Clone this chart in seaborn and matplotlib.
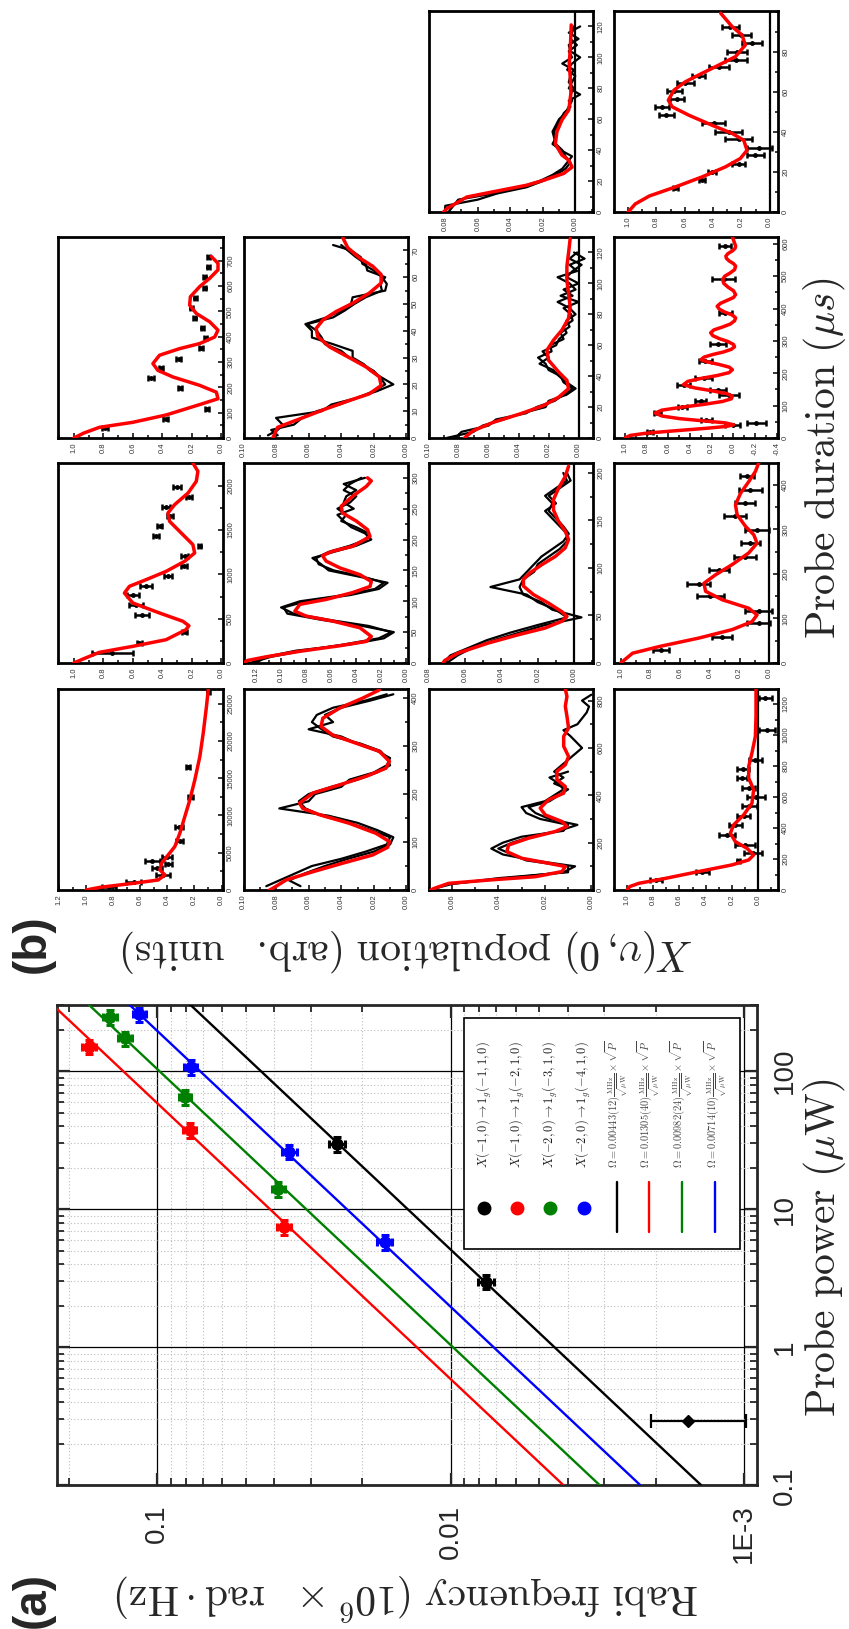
import numpy as np
import matplotlib
matplotlib.use("Agg")
import matplotlib.pyplot as plt
import seaborn as sns
from matplotlib.ticker import LogLocator, NullFormatter, MultipleLocator
from matplotlib.patches import Rectangle

# ---------------------------------------------------------------- panel (a) data
power_black = [2.99, 29.7]
rabi_black = [0.0076, 0.0244]
rabi_err_black = [0.0005, 0.0015]
power_err_black = [0.35, 3.5]
power_low = [0.291]
rabi_low = [0.00155]
rabi_low_err = [[0.00056], [0.00053]]

power_red = [151, 37.5, 7.4]
rabi_red = [0.171, 0.0775, 0.037]
rabi_err_red = [0.009, 0.004, 0.002]
power_err_red = [18, 4.5, 0.9]

power_green = [246, 173, 65, 14.0]
rabi_green = [0.145, 0.129, 0.0805, 0.0387]
rabi_err_green = [0.008, 0.007, 0.004, 0.002]
power_err_green = [30, 21, 8, 1.7]

power_blue = [258, 107, 26.1, 5.77]
rabi_blue = [0.115, 0.077, 0.0355, 0.0168]
rabi_err_blue = [0.006, 0.004, 0.002, 0.001]
power_err_blue = [31, 13, 3.1, 0.7]

fit_coef = [0.00443, 0.01305, 0.00982, 0.00714]
series_colors = ["#000000", "#ff0000", "#008000", "#0000ff"]
marker_labels = [r"$X(-1,0)\rightarrow 1_g(-1,1,0)$",
                 r"$X(-1,0)\rightarrow 1_g(-2,1,0)$",
                 r"$X(-2,0)\rightarrow 1_g(-3,1,0)$",
                 r"$X(-2,0)\rightarrow 1_g(-4,1,0)$"]
fit_labels = [r"$\Omega=0.00443(12)\frac{\mathrm{MHz}}{\sqrt{\mu\mathrm{W}}}\times\sqrt{P}$",
              r"$\Omega=0.01305(40)\frac{\mathrm{MHz}}{\sqrt{\mu\mathrm{W}}}\times\sqrt{P}$",
              r"$\Omega=0.00982(24)\frac{\mathrm{MHz}}{\sqrt{\mu\mathrm{W}}}\times\sqrt{P}$",
              r"$\Omega=0.00714(10)\frac{\mathrm{MHz}}{\sqrt{\mu\mathrm{W}}}\times\sqrt{P}$"]

# ---------------------------------------------------------------- panel (b) data
# r1c3
r1c3_fit_t = [0, 2.2, 9.7, 13.6, 17.3, 20.5, 24.9, 29, 33.5, 36.8, 44, 52, 59.5, 66, 76.8, 85.4, 96.2, 107, 121]
r1c3_fit_p = [0.081, 0.079, 0.0667, 0.048, 0.030, 0.0195, 0.0072, 0.002, 0.004, 0.0082, 0.0123, 0.0113,
              0.0082, 0.004, 0.0027, 0.003, 0.0037, 0.003, 0.0025]
r1c3_t = [0, 4, 8, 12, 16, 20, 24, 28, 32, 36, 40, 44, 48, 52, 56, 60, 64, 68, 72, 76, 80, 84, 88, 92, 96,
          100, 104, 108, 112, 116, 120]
r1c3_a = [.080, .080, .060, .048, .030, .020, .012, .006, .003, .006, .008, .012, .013, .014, .012, .010,
          .006, .004, .002, .003, .001, .004, .003, .001, .008, .002, .004, -.001, .003, .002, .001]
r1c3_b = [.078, .075, .072, .050, .034, .022, .014, .008, .005, .002, .009, .014, .012, .013, .011, .009,
          .007, .003, .004, -.003, .004, .002, .000, .005, .002, -.003, .003, .004, -.002, .004, -.003]

# r1c4
r1c4_fit_t = [0, 4, 8, 12.5, 17.5, 22.5, 26.7, 30.8, 35.8, 39.2, 43.3, 48.3, 52.5, 55.8, 60.8, 65, 69.2,
              73.3, 77.5, 83.3, 88.3, 92.5, 99.2]
r1c4_fit_p = [1.0, 0.95, 0.85, 0.666, 0.478, 0.313, 0.207, 0.16, 0.183, 0.265, 0.407, 0.571, 0.689, 0.716,
              0.676, 0.595, 0.478, 0.36, 0.242, 0.172, 0.195, 0.265, 0.346]
r1c4_pt_t = [12, 15.8, 20, 24.2, 28.3, 32, 36.2, 40, 44.2, 48.3, 52.2, 56.2, 60.3, 64.2, 68, 72.2, 75.8,
             80, 84.2, 88.2, 92.2]
r1c4_pt_p = [0.666, 0.478, 0.407, 0.219, 0.101, 0.073, 0.219, 0.289, 0.395, 0.732, 0.76, 0.654, 0.673,
             0.595, 0.501, 0.36, 0.238, 0.231, 0.125, 0.2, 0.278]
r1c4_pt_e = [0.02, 0.02, 0.03, 0.047, 0.059, 0.088, 0.094, 0.094, 0.082, 0.053, 0.047, 0.047, 0.053, 0.059,
             0.047, 0.07, 0.076, 0.07, 0.07, 0.065, 0.059]

# r2c1
r2c1_fit_t = [0, 20, 42, 62, 91, 132, 155, 181, 208, 241, 267, 294, 327, 353, 373, 399, 426, 459, 492,
              525, 558, 598, 631, 664, 690, 717]
r2c1_fit_p = [1.0, 0.93, 0.827, 0.6, 0.374, 0.147, 0.023, 0.034, 0.147, 0.328, 0.43, 0.464, 0.419, 0.283,
              0.147, 0.045, 0.023, 0.079, 0.17, 0.215, 0.21, 0.147, 0.079, 0.023, 0.023, 0.068]
r2c1_pt_t = [38, 75, 115, 197, 237, 276, 313, 357, 396, 435, 475, 515, 554, 594, 635, 675, 714]
r2c1_pt_p = [0.79, 0.378, 0.097, 0.279, 0.476, 0.408, 0.29, 0.14, 0.106, 0.129, 0.179, 0.204, 0.177,
             0.113, 0.113, 0.09, 0.086]
r2c1_pt_e = [0.02, 0.015, 0.015, 0.015, 0.02, 0.015, 0.015, 0.015, 0.01, 0.01, 0.01, 0.01, 0.01, 0.01,
             0.01, 0.01, 0.01]

# r2c2
r2c2_fit_t = [0, 4, 7.1, 10.9, 14, 16.5, 19.6, 22.8, 26.5, 30.3, 34, 37.8, 40.9, 44, 47.2, 50.3, 54.1,
              57.8, 61, 64.1, 67.2, 71, 74.7]
r2c2_fit_p = [0.082, 0.079, 0.0656, 0.0493, 0.035, 0.0227, 0.0155, 0.0166, 0.0247, 0.036, 0.0472, 0.0544,
              0.0554, 0.0513, 0.0431, 0.0329, 0.0227, 0.0155, 0.0155, 0.0207, 0.0288, 0.036, 0.039]
r2c2_t = [1, 3, 5, 7.5, 10, 12.5, 15, 17.5, 20, 22.5, 25, 27.5, 30, 32.5, 35, 37.5, 40, 42.5, 45, 47.5,
          50, 52.5, 55, 57.5, 60, 62.5, 65, 67.5, 70, 72]
r2c2_a = [.085, .079, .076, .080, .052, .046, .030, .018, .008, .015, .022, .026, .033, .033, .045, .058,
          .058, .062, .049, .040, .034, .033, .013, .012, .015, .020, .027, .028, .034, .045]
r2c2_b = [.079, .083, .069, .064, .055, .041, .030, .020, .013, .016, .020, .027, .035, .040, .050, .052,
          .055, .061, .045, .038, .032, .025, .015, .016, .013, .024, .025, .031, .036, .040]

# r2c3
r2c3_fit_t = [0, 1.5, 4.8, 10.2, 15.6, 21, 26.4, 31.9, 37.3, 42.7, 50.3, 56.8, 63.3, 69.8, 77.4, 84.9,
              93.6, 102, 111, 119.6, 129]
r2c3_fit_p = [0.076, 0.0744, 0.07, 0.0567, 0.0389, 0.0233, 0.0133, 0.0067, 0.0078, 0.0133, 0.02, 0.0211,
              0.0167, 0.0111, 0.0067, 0.0056, 0.0067, 0.0078, 0.0078, 0.0067, 0.0056]
r2c3_t = [0, 4, 8, 12, 16, 20, 24, 28, 32, 36, 40, 44, 48, 52, 56, 60, 64, 68, 72, 76, 80, 84, 88, 92, 96,
          100, 104, 108, 112, 116, 120]
r2c3_a = [.088, .070, .064, .050, .038, .022, .020, .008, .002, .008, .013, .017, .026, .020, .024, .015,
          .013, .008, .010, .004, .005, .010, .000, .012, .002, .006, .014, .001, .006, -.004, .003]
r2c3_b = [.082, .078, .060, .055, .035, .028, .016, .010, .004, .010, .012, .020, .022, .027, .018, .019,
          .010, .012, .006, .008, .002, .006, .014, .004, .010, .000, .008, .004, -.002, .006, .001]

# r2c4
r2c4_fit_t = [0, 8, 15, 22, 30, 36, 41, 47, 53, 60, 68, 77, 86, 95, 104, 113, 121, 129, 137, 146, 155,
              165, 175, 184, 193, 202, 211, 219, 227, 235, 242, 250, 258, 266, 274, 282, 289, 298, 307,
              316, 325, 334, 343, 352, 362, 371, 380, 389, 398, 407, 416, 425, 434, 443, 455, 466, 478,
              490, 500, 510, 520, 531, 539, 547, 555, 562, 570, 578, 586, 593, 607, 621]
r2c4_fit_p = [1.0, 0.95, 0.80, 0.55, 0.25, 0.06, 0.0, 0.08, 0.28, 0.50, 0.66, 0.72, 0.66, 0.48, 0.27,
              0.10, 0.02, 0.01, 0.06, 0.20, 0.36, 0.46, 0.42, 0.30, 0.15, 0.04, 0.01, 0.04, 0.13, 0.24,
              0.30, 0.27, 0.19, 0.09, 0.02, -0.01, 0.0, 0.05, 0.13, 0.19, 0.21, 0.18, 0.10, 0.03, -0.01,
              -0.02, 0.01, 0.08, 0.13, 0.15, 0.12, 0.06, 0.00, -0.02, 0.0, 0.05, 0.09, 0.10, 0.08, 0.03,
              -0.01, -0.02, 0.0, 0.04, 0.065, 0.07, 0.05, 0.01, -0.015, -0.02, -0.005, 0.01]
r2c4_pt_t = [17.5, 41, 45, 55, 77, 96, 113, 134, 149, 165, 186, 237, 289, 387, 490, 593]
r2c4_pt_p = [0.77, 0.006, -0.21, 0.25, 0.70, 0.47, 0.30, 0.043, 0.142, 0.456, 0.273, 0.26, 0.142, 0.074,
             0.09, 0.08]
r2c4_pt_e = [0.025, 0.07, 0.085, 0.05, 0.03, 0.045, 0.05, 0.09, 0.07, 0.06, 0.077, 0.06, 0.07, 0.06,
             0.107, 0.054]

# r3c1
r3c1_fit_t = [0, 50, 120, 188, 263, 376, 420, 470, 564, 677, 789, 865, 940, 1034, 1147, 1241, 1335, 1466,
              1598, 1692, 1786, 1917, 2049, 2162, 2256]
r3c1_fit_p = [1.0, 0.93, 0.827, 0.6, 0.374, 0.24, 0.22, 0.26, 0.419, 0.6, 0.657, 0.623, 0.51, 0.374,
              0.249, 0.181, 0.193, 0.272, 0.351, 0.362, 0.317, 0.226, 0.17, 0.159, 0.193]
r3c1_pt_t = [113, 226, 346, 545, 650, 763, 872, 985, 1098, 1203, 1316, 1429, 1541, 1654, 1759, 1868, 1985]
r3c1_pt_p = [0.74, 0.555, 0.249, 0.537, 0.578, 0.6, 0.51, 0.362, 0.256, 0.249, 0.147, 0.442, 0.419, 0.351,
             0.374, 0.22, 0.301]
r3c1_pt_e = [0.14, 0.02, 0.015, 0.045, 0.045, 0.04, 0.04, 0.03, 0.02, 0.025, 0.01, 0.02, 0.02, 0.02,
             0.025, 0.02, 0.025]

# r3c2
r3c2_fit_t = [0, 4, 10, 19, 28, 35, 43, 57, 68, 76, 84, 95, 103, 114, 124, 132, 143, 154, 165, 174, 181,
              189, 205, 216, 230, 243, 254, 270, 286, 295, 300]
r3c2_fit_p = [0.13, 0.127, 0.112, 0.085, 0.053, 0.032, 0.028, 0.037, 0.059, 0.08, 0.089, 0.085, 0.064,
              0.043, 0.029, 0.028, 0.037, 0.053, 0.064, 0.067, 0.059, 0.043, 0.029, 0.031, 0.04, 0.051,
              0.052, 0.043, 0.032, 0.028, 0.031]
r3c2_t = [0, 10, 20, 30, 40, 50, 60, 70, 80, 90, 100, 110, 120, 130, 140, 150, 160, 170, 180, 190, 200,
          210, 220, 230, 240, 250, 260, 270, 280, 290, 300]
r3c2_a = [.125, .108, .082, .050, .022, .012, .030, .062, .090, .100, .085, .050, .025, .018, .035, .058,
          .070, .072, .062, .045, .032, .030, .040, .052, .048, .055, .045, .040, .050, .045, .036]
r3c2_b = [.120, .112, .088, .045, .018, .010, .035, .068, .095, .098, .080, .045, .022, .015, .038, .062,
          .068, .075, .058, .040, .028, .033, .044, .050, .055, .042, .050, .048, .040, .050, .033]

# r3c3
r3c3_fit_t = [0, 2.8, 10.5, 21, 29.8, 36.8, 43.9, 49, 54, 63, 72, 81, 88, 95, 103.5, 112, 121, 130, 139,
              149, 161, 172, 184, 196, 207]
r3c3_fit_p = [0.072, 0.071, 0.0637, 0.0472, 0.0306, 0.016, 0.0068, 0.004, 0.0068, 0.0141, 0.0224, 0.0279,
              0.0279, 0.0242, 0.0178, 0.0105, 0.005, 0.0031, 0.005, 0.0086, 0.0114, 0.0114, 0.0086, 0.005,
              0.0031]
r3c3_t = [0, 8, 16, 24, 32, 40, 48, 56, 64, 72, 80, 88, 96, 104, 112, 120, 128, 136, 144, 152, 160, 168,
          176, 184, 192, 200]
r3c3_a = [.072, .068, .058, .048, .035, .020, .004, .010, .020, .026, .046, .030, .026, .022, .018, .012,
          .006, .003, .006, .010, .014, .012, .016, .010, .004, .006]
r3c3_b = [.070, .064, .056, .044, .030, .016, -.004, .012, .018, .028, .030, .028, .022, .020, .014, .008,
          .004, .004, .008, .012, .016, .010, .014, .008, .002, .004]

# r3c4
r3c4_fit_t = [0, 22, 37, 56, 75, 93, 108, 123, 142, 161, 179, 198, 221, 247, 269, 288, 307, 333, 355, 381,
              407, 430, 449]
r3c4_fit_p = [1.0, 0.92, 0.74, 0.474, 0.25, 0.116, 0.083, 0.139, 0.317, 0.429, 0.44, 0.362, 0.25, 0.139,
              0.083, 0.105, 0.161, 0.217, 0.228, 0.194, 0.139, 0.094, 0.072]
r3c4_pt_t = [30, 58, 90, 117, 150, 178, 209, 239, 269, 299, 329, 359, 389, 419]
r3c4_pt_p = [0.73, 0.317, 0.072, 0.072, 0.396, 0.474, 0.34, 0.165, 0.127, 0.083, 0.232, 0.161, 0.127, 0.15]
r3c4_pt_e = [0.056, 0.067, 0.078, 0.09, 0.09, 0.078, 0.067, 0.073, 0.067, 0.078, 0.073, 0.067, 0.078, 0.045]

# r4c1
r4c1_fit_t = [0, 358, 896, 1344, 2016, 2688, 3584, 4704, 5824, 7616, 9857, 12097, 14785, 17921, 21057,
              24641, 26882]
r4c1_fit_p = [1.0, 0.898, 0.652, 0.468, 0.418, 0.455, 0.443, 0.394, 0.345, 0.308, 0.271, 0.234, 0.197,
              0.16, 0.135, 0.111, 0.098]
r4c1_pt_t = [450, 1120, 2016, 2912, 3450, 3898, 4480, 6631, 8513, 12545, 16487, 26523]
r4c1_pt_p = [0.83, 0.647, 0.431, 0.48, 0.394, 0.512, 0.406, 0.308, 0.315, 0.229, 0.246, 0.098]
r4c1_pt_e = [0.05, 0.055, 0.05, 0.037, 0.025, 0.055, 0.037, 0.025, 0.03, 0.015, 0.015, 0.01]

# r4c2
r4c2_fit_t = [0, 3.5, 21, 38, 56, 73, 89, 101, 118, 139, 157, 170, 181, 202, 219, 237, 254, 268, 289,
              306, 323, 341, 358, 379, 400, 417]
r4c2_fit_p = [0.084, 0.082, 0.0738, 0.0575, 0.039, 0.0207, 0.0115, 0.0104, 0.0186, 0.035, 0.0534, 0.0636,
              0.0656, 0.0575, 0.0411, 0.0247, 0.0125, 0.0104, 0.0166, 0.0309, 0.0452, 0.0524, 0.0513,
              0.0411, 0.0268, 0.0166]
r4c2_t = [8, 20, 35, 50, 65, 80, 95, 110, 125, 140, 155, 170, 185, 200, 215, 230, 245, 260, 275, 290, 305,
          320, 335, 350, 365, 380, 395, 408]
r4c2_a = [.086, .078, .068, .058, .040, .025, .012, .010, .022, .035, .052, .062, .066, .060, .046, .030,
          .018, .010, .012, .016, .028, .045, .052, .058, .055, .045, .025, .012]
r4c2_b = [.065, .072, .062, .050, .036, .020, .010, .008, .018, .030, .048, .078, .060, .056, .040, .035,
          .020, .012, .010, .018, .030, .040, .060, .045, .050, .040, .022, .008]

# r4c3
r4c3_fit_t = [0, 7, 28, 42, 56, 78, 99, 113, 134, 162, 190, 219, 247, 268, 289, 317, 346, 381, 409, 437,
              466, 501, 529, 564, 607, 649, 684, 734, 776, 818, 849]
r4c3_fit_p = [0.069, 0.0675, 0.0614, 0.0442, 0.0241, 0.0126, 0.0112, 0.0184, 0.0299, 0.0363, 0.0356,
              0.027, 0.0155, 0.0105, 0.0126, 0.0198, 0.022, 0.0184, 0.0119, 0.0112, 0.0148, 0.0148, 0.0112,
              0.0098, 0.0119, 0.0119, 0.0098, 0.0105, 0.0112, 0.0105, 0.0112]
r4c3_ta = [0, 25, 50, 75, 100, 125, 150, 175, 200, 225, 250, 275, 300, 325, 350, 375, 400, 425, 450, 475, 500]
r4c3_a = [.069, .062, .036, .012, .007, .025, .038, .043, .038, .030, .012, .010, .022, .028, .030, .020,
          .016, .012, .014, .018, .010]
r4c3_tb = [0, 25, 50, 75, 100, 125, 150, 175, 200, 225, 250, 275, 300, 325, 350, 375, 400, 425, 450, 475,
           500, 550, 600, 650, 675, 700, 725, 750, 775, 800, 825]
r4c3_b = [.070, .060, .040, .010, .010, .028, .034, .040, .034, .026, .014, .006, .018, .024, .027, .018,
          .014, .010, .016, .012, .016, .010, .004, .009, .012, .006, .004, .002, .001, .004, .000]

# r4c4
r4c4_fit_t = [0, 22, 43, 75, 119, 162, 194, 226, 269, 312, 366, 420, 485, 560, 647, 722, 797, 884, 991,
              1121, 1239, 1297]
r4c4_fit_p = [1.0, 0.98, 0.911, 0.707, 0.453, 0.198, 0.071, 0.033, 0.084, 0.173, 0.211, 0.186, 0.109,
              0.046, 0.033, 0.071, 0.071, 0.046, 0.02, 0.015, 0.015, 0.015]
r4c4_pt_t = [65, 119, 188, 237, 291, 356, 420, 478, 539, 599, 657, 722, 780, 840, 1034, 1239]
r4c4_pt_p = [0.778, 0.427, 0.15, 0.04, 0.097, 0.237, 0.173, 0.109, 0.066, 0.015, 0.071, 0.122, 0.117,
             0.02, -0.069, -0.056]
r4c4_pt_e = [0.045, 0.05, 0.01, 0.07, 0.076, 0.064, 0.05, 0.05, 0.057, 0.07, 0.05, 0.04, 0.045, 0.05,
             0.064, 0.05]

# ---------------------------------------------------------------- figure
sns.set_style("ticks")
plt.rcParams["font.family"] = ["Liberation Sans", "DejaVu Sans"]
plt.rcParams["mathtext.fontset"] = "cm"

W, H = 849, 1629
fig = plt.figure(figsize=(W / 100, H / 100), dpi=100)


def px_axes(x0, y0, x1, y1):
    return fig.add_axes([x0 / W, 1 - y1 / H, (x1 - x0) / W, (y1 - y0) / H])


def align_rotated_labels(axis_obj):
    # tick labels turned by 90 degrees: centre them on the tick along the axis
    for lbl in axis_obj.yaxis.get_ticklabels():
        lbl.set_verticalalignment("center")
        lbl.set_horizontalalignment("left")
    for lbl in axis_obj.xaxis.get_ticklabels():
        lbl.set_verticalalignment("top")
        lbl.set_horizontalalignment("center")


# ---------------------------------------------------------------- panel (a)
ax = px_axes(57.3, 1005, 757.3, 1485.3)
ax.set_xscale("log")
ax.set_yscale("log")
ax.set_axisbelow(True)

power_grid = np.logspace(-1, np.log10(310), 200)
for coef, col in zip(fit_coef, series_colors):
    sns.lineplot(x=coef * np.sqrt(power_grid), y=power_grid, sort=False, estimator=None,
                 color=col, lw=1.7, ax=ax, zorder=3)

point_sets = [(rabi_black, power_black, rabi_err_black, power_err_black, series_colors[0]),
              (rabi_red, power_red, rabi_err_red, power_err_red, series_colors[1]),
              (rabi_green, power_green, rabi_err_green, power_err_green, series_colors[2]),
              (rabi_blue, power_blue, rabi_err_blue, power_err_blue, series_colors[3])]
for rx, py, rxe, pye, col in point_sets:
    ax.errorbar(rx, py, xerr=rxe, yerr=pye, fmt="none", ecolor=col, elinewidth=2.2,
                capsize=3, capthick=2.2, zorder=4)
    sns.scatterplot(x=rx, y=py, color=col, s=80, edgecolor=col, linewidth=0, ax=ax, zorder=4)
ax.errorbar(rabi_low, power_low, xerr=rabi_low_err, fmt="D", ms=6, color="black",
            elinewidth=1.6, capsize=5, capthick=1.6, zorder=4)

ax.set_xticks([1e-3, 1e-2, 1e-1], labels=["1E-3", "0.01", "0.1"])
ax.xaxis.set_minor_locator(LogLocator(base=10, subs=np.arange(2, 10)))
ax.xaxis.set_minor_formatter(NullFormatter())
ax.yaxis.tick_right()
ax.set_yticks([0.1, 1, 10, 100], labels=["0.1", "1", "10", "100"])
ax.yaxis.set_minor_locator(LogLocator(base=10, subs=np.arange(2, 10)))
ax.yaxis.set_minor_formatter(NullFormatter())
ax.tick_params(which="both", direction="in", top=True, bottom=True, left=True, right=True,
               labelleft=False, labelright=True, labelbottom=True, labeltop=False)
ax.tick_params(which="major", length=9, width=1.6, labelsize=20)
ax.tick_params(axis="x", which="major", pad=14)
ax.tick_params(axis="y", which="major", pad=10.5)
ax.tick_params(which="minor", length=5, width=1.3)
ax.tick_params(axis="x", labelrotation=90)
ax.tick_params(axis="y", labelrotation=90)
ax.grid(which="major", color="black", lw=0.9, ls="-")
ax.grid(which="minor", color="#bdbdbd", lw=0.8, ls=(0, (1, 2)))
for s in ax.spines.values():
    s.set_linewidth(2.0)
ax.set_xlabel("")
ax.set_ylabel("")

# legend drawn as a rotated block inside the axes
ax.add_patch(Rectangle((0.581, 0.492), 0.394, 0.481, transform=ax.transAxes,
                       fc="white", ec="black", lw=1.2, zorder=6))
leg_x = [0.610, 0.657, 0.704, 0.752, 0.799, 0.845, 0.892, 0.940]
for i, col in enumerate(series_colors):
    ax.plot([leg_x[i]], [0.577], "o", ms=9, color=col, transform=ax.transAxes, zorder=7)
    ax.text(leg_x[i], 0.660, marker_labels[i], rotation=90, ha="center", va="bottom",
            fontsize=9, color="#222222", transform=ax.transAxes, zorder=7)
    ax.plot([leg_x[i + 4]] * 2, [0.527, 0.631], color=col, lw=1.7, transform=ax.transAxes, zorder=7)
    ax.text(leg_x[i + 4], 0.660, fit_labels[i], rotation=90, ha="center", va="bottom",
            fontsize=7.5, color="#444444", transform=ax.transAxes, zorder=7)

ax.set_xlim(0.219, 0.000903)
ax.set_ylim(0.1, 302)
align_rotated_labels(ax)

# ---------------------------------------------------------------- panel (b)
cols_x = [(58, 223), (243.5, 408), (428.5, 593), (614, 778)]
rows_y = [(11, 212), (237, 438), (463, 663), (689, 890)]

lbl_r1 = ["1.0", "0.8", "0.6", "0.4", "0.2", "0.0"]
tk_r1 = [1.0, 0.8, 0.6, 0.4, 0.2, 0.0]
tk_small = [0.10, 0.08, 0.06, 0.04, 0.02, 0.00]
lbl_small = ["0.10", "0.08", "0.06", "0.04", "0.02", "0.00"]

panels = [
    dict(r=0, c=2, xlim=(0.0903, -0.0109), xt=tk_small[1:], xl=lbl_small[1:], xm=0.01,
         ylim=(0, 130), yt=[0, 20, 40, 60, 80, 100, 120], ym=10, zero=True,
         fit=(r1c3_fit_p, r1c3_fit_t), traces=[(r1c3_a, r1c3_t), (r1c3_b, r1c3_t)]),
    dict(r=0, c=3, xlim=(1.10, -0.059), xt=tk_r1, xl=lbl_r1, xm=0.1,
         ylim=(0, 100.3), yt=[0, 20, 40, 60, 80], ym=10, zero=True,
         fit=(r1c4_fit_p, r1c4_fit_t), pts=(r1c4_pt_p, r1c4_pt_t, r1c4_pt_e)),
    dict(r=1, c=0, xlim=(1.107, -0.011), xt=tk_r1, xl=lbl_r1, xm=0.1,
         ylim=(0, 794), yt=[0, 100, 200, 300, 400, 500, 600, 700], ym=50, zero=False,
         fit=(r2c1_fit_p, r2c1_fit_t), pts=(r2c1_pt_p, r2c1_pt_t, r2c1_pt_e)),
    dict(r=1, c=1, xlim=(0.10, -0.001), xt=tk_small, xl=lbl_small, xm=0.01,
         ylim=(0, 75), yt=[0, 10, 20, 30, 40, 50, 60, 70], ym=5, zero=False,
         fit=(r2c2_fit_p, r2c2_fit_t), traces=[(r2c2_a, r2c2_t), (r2c2_b, r2c2_t)]),
    dict(r=1, c=2, xlim=(0.10, -0.0096), xt=tk_small, xl=lbl_small, xm=0.01,
         ylim=(0, 130), yt=[0, 20, 40, 60, 80, 100, 120], ym=10, zero=True,
         fit=(r2c3_fit_p, r2c3_fit_t), traces=[(r2c3_a, r2c3_t), (r2c3_b, r2c3_t)]),
    dict(r=1, c=3, xlim=(1.10, -0.41), xt=[1.0, 0.8, 0.6, 0.4, 0.2, 0.0, -0.2, -0.4],
         xl=["1.0", "0.8", "0.6", "0.4", "0.2", "0.0", "-0.2", "-0.4"], xm=0.1,
         ylim=(0, 621), yt=[0, 100, 200, 300, 400, 500, 600], ym=50, zero=False,
         fit=(r2c4_fit_p, r2c4_fit_t), pts=(r2c4_pt_p, r2c4_pt_t, r2c4_pt_e)),
    dict(r=2, c=0, xlim=(1.107, -0.011), xt=tk_r1, xl=lbl_r1, xm=0.1,
         ylim=(0, 2256), yt=[0, 500, 1000, 1500, 2000], ym=250, zero=False,
         fit=(r3c1_fit_p, r3c1_fit_t), pts=(r3c1_pt_p, r3c1_pt_t, r3c1_pt_e)),
    dict(r=2, c=1, xlim=(0.130, -0.0013), xt=[0.12] + tk_small, xl=["0.12"] + lbl_small, xm=0.01,
         ylim=(0, 324), yt=[0, 50, 100, 150, 200, 250, 300], ym=25, zero=False,
         fit=(r3c2_fit_p, r3c2_fit_t), traces=[(r3c2_a, r3c2_t), (r3c2_b, r3c2_t)]),
    dict(r=2, c=2, xlim=(0.08, -0.0103), xt=tk_small[1:], xl=lbl_small[1:], xm=0.01,
         ylim=(0, 210.5), yt=[0, 50, 100, 150, 200], ym=25, zero=True,
         fit=(r3c3_fit_p, r3c3_fit_t), traces=[(r3c3_a, r3c3_t), (r3c3_b, r3c3_t)]),
    dict(r=2, c=3, xlim=(1.045, -0.058), xt=tk_r1, xl=lbl_r1, xm=0.1,
         ylim=(0, 449), yt=[0, 100, 200, 300, 400], ym=50, zero=True,
         fit=(r3c4_fit_p, r3c4_fit_t), pts=(r3c4_pt_p, r3c4_pt_t, r3c4_pt_e)),
    dict(r=3, c=0, xlim=(1.208, -0.011), xt=[1.2] + tk_r1, xl=["1.2"] + lbl_r1, xm=0.1,
         ylim=(0, 26970), yt=[0, 5000, 10000, 15000, 20000, 25000], ym=2500, zero=False,
         fit=(r4c1_fit_p, r4c1_fit_t), pts=(r4c1_pt_p, r4c1_pt_t, r4c1_pt_e)),
    dict(r=3, c=1, xlim=(0.10, -0.001), xt=tk_small, xl=lbl_small, xm=0.01,
         ylim=(0, 419), yt=[0, 100, 200, 300, 400], ym=50, zero=False,
         fit=(r4c2_fit_p, r4c2_fit_t), traces=[(r4c2_a, r4c2_t), (r4c2_b, r4c2_t)]),
    dict(r=3, c=2, xlim=(0.070, -0.0007), xt=tk_small[2:], xl=lbl_small[2:], xm=0.01,
         ylim=(0, 849), yt=[0, 200, 400, 600, 800], ym=100, zero=False,
         fit=(r4c3_fit_p, r4c3_fit_t), traces=[(r4c3_a, r4c3_ta), (r4c3_b, r4c3_tb)]),
    dict(r=3, c=3, xlim=(1.10, -0.153), xt=tk_r1, xl=lbl_r1, xm=0.1,
         ylim=(0, 1297), yt=[0, 200, 400, 600, 800, 1000, 1200], ym=100, zero=True,
         fit=(r4c4_fit_p, r4c4_fit_t), pts=(r4c4_pt_p, r4c4_pt_t, r4c4_pt_e)),
]

for p in panels:
    x0, x1 = cols_x[p["c"]]
    y0, y1 = rows_y[p["r"]]
    bx = px_axes(x0, y0, x1, y1)
    if p["zero"]:
        bx.axvline(0, color="black", lw=1.6, zorder=1)
    for pop, dur in p.get("traces", []):
        sns.lineplot(x=pop, y=dur, sort=False, estimator=None, color="black", lw=1.6, ax=bx, zorder=2)
    if "pts" in p:
        pp, pt, pe = p["pts"]
        bx.errorbar(pp, pt, xerr=pe, fmt="o", ms=2.5, color="black", elinewidth=1.8,
                    capsize=2, capthick=1.8, zorder=2)
    fp, ft = p["fit"]
    sns.lineplot(x=fp, y=ft, sort=False, estimator=None, color="#ff0000", lw=2.5, ax=bx, zorder=3)

    bx.set_xlim(*p["xlim"])
    bx.set_ylim(*p["ylim"])
    bx.set_xticks(p["xt"], labels=p["xl"])
    bx.xaxis.set_minor_locator(MultipleLocator(p["xm"]))
    bx.yaxis.tick_right()
    bx.set_yticks(p["yt"], labels=[str(v) for v in p["yt"]])
    bx.yaxis.set_minor_locator(MultipleLocator(p["ym"]))
    bx.tick_params(which="both", direction="in", bottom=True, right=True, top=False, left=False,
                   labelbottom=True, labelright=True, labelleft=False, labeltop=False,
                   labelsize=5.5, labelcolor="#333333", width=1.3)
    bx.tick_params(which="major", length=3.5, pad=3)
    bx.tick_params(which="minor", length=2.5)
    bx.tick_params(axis="x", labelrotation=90)
    bx.tick_params(axis="y", labelrotation=90)
    for s in bx.spines.values():
        s.set_linewidth(2.0)
        s.set_color("black")
    bx.set_xlabel("")
    bx.set_ylabel("")
    align_rotated_labels(bx)

# ---------------------------------------------------------------- labels
fig.text(33 / W, 1 - 1600 / H, "(a)", rotation=90, ha="center", va="center",
         fontsize=33, fontweight="bold")
fig.text(33 / W, 1 - 944 / H, "(b)", rotation=90, ha="center", va="center",
         fontsize=33, fontweight="bold")
fig.text(407 / W, 1 - 1597 / H,
         r"$\mathrm{Rabi\ frequency}\ (10^{6}\times\ \ \mathrm{rad}\cdot\mathrm{Hz})$",
         rotation=180, ha="center", va="center", fontsize=30)
fig.text(825 / W, 1 - 1248 / H, r"$\mathrm{Probe\ power}\ (\mu\mathrm{W})$",
         rotation=90, ha="center", va="center", fontsize=30)
fig.text(407 / W, 1 - 951 / H, r"$X(\upsilon,0)\ \mathrm{population\ (arb.\ \ units)}$",
         rotation=180, ha="center", va="center", fontsize=30)
fig.text(825 / W, 1 - 458 / H, r"$\mathrm{Probe\ duration}\ (\mu s)$",
         rotation=90, ha="center", va="center", fontsize=30)

fig.savefig("out.png", dpi=100)
